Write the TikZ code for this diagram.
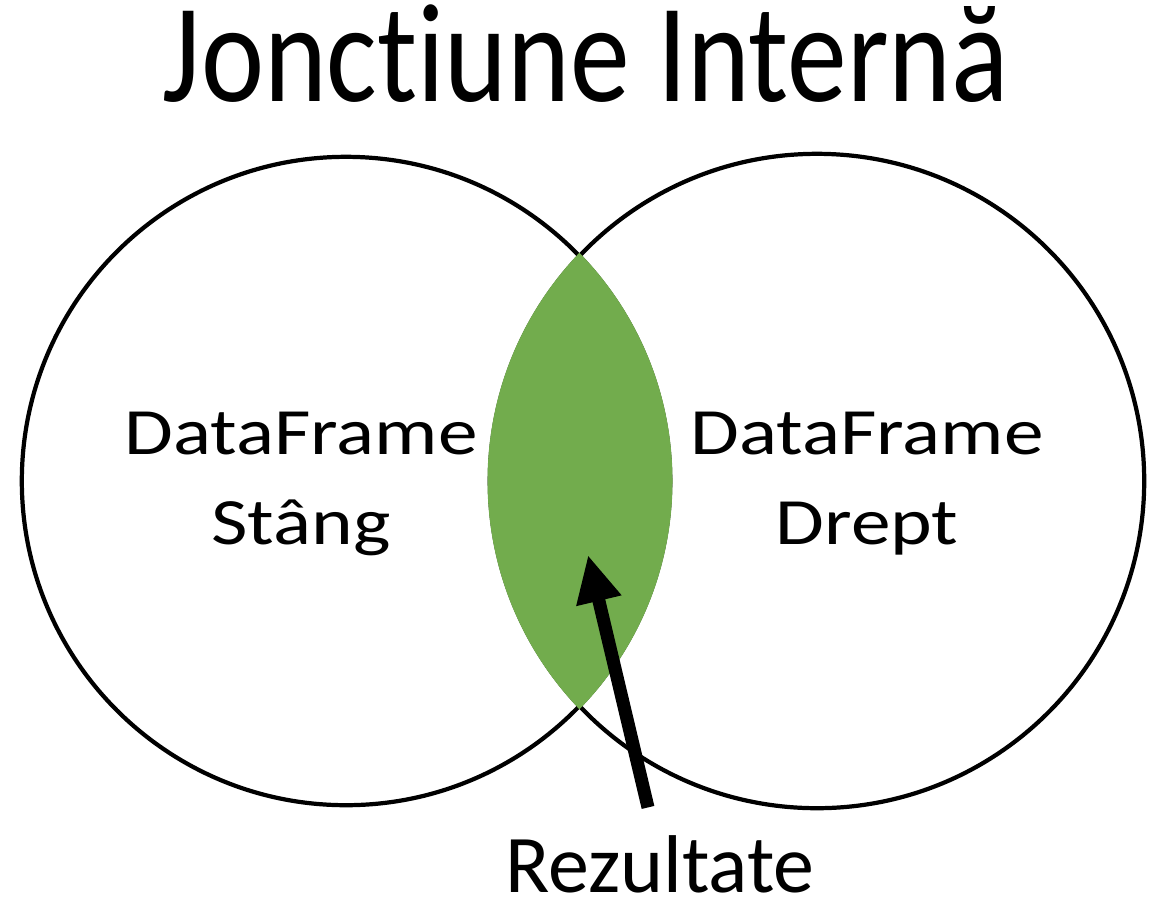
\documentclass[tikz,border=0pt]{standalone}
\usepackage{fontspec}
\setmainfont{Carlito}[Ligatures=NoCommon]
\usetikzlibrary{arrows.meta}
\definecolor{lensgreen}{RGB}{114,172,77}
\newcommand{\widetext}[1]{\scalebox{1.2}[1]{#1}}
\tikzstyle{setcircle}=[circle,draw,line width=1.2pt,inner sep=0pt]
\tikzstyle{headline}=[font=\fontsize{40}{44}\selectfont,anchor=base]
\tikzstyle{setlabel}=[align=center,font=\fontsize{18.8}{25.6}\selectfont]
\tikzstyle{resultlabel}=[font=\fontsize{23.3}{28}\selectfont,anchor=base,inner sep=0pt]
\tikzstyle{resultarrow}=[line width=0.13cm,-{Triangle[width=0.43cm,length=0.47cm]}]

\begin{document}
\begin{tikzpicture}[x=0.01cm,y=-0.01cm]
  \useasboundingbox (0,0) rectangle (1165,912);
  \node[headline] (title) at (586,101) {\scalebox{0.85}[1]{Jonctiune Internă}};
  % cele doua multimi
  \node[setcircle,minimum size=6.48cm] (left) at (346,481) {};
  \node[setcircle,minimum size=6.54cm] (right) at (817,481) {};
  % intersectia
  \begin{scope}
    \clip (left.center) circle (326.5);
    \fill[lensgreen] (right.center) circle (329.5);
  \end{scope}
  \node[setlabel] (lefttext) at (301,484) {\widetext{DataFrame}\\\widetext{Stâng}};
  \node[setlabel] (righttext) at (867,484) {\widetext{DataFrame}\\\widetext{Drept}};
  \node[resultlabel] (result) at (660,892) {Rezultate};
  \coordinate (tip) at (588,555);
  \path (result.north) ++(-12,-27) coordinate (tail);
  \draw[resultarrow] (tail)--(tip);
\end{tikzpicture}
\end{document}
